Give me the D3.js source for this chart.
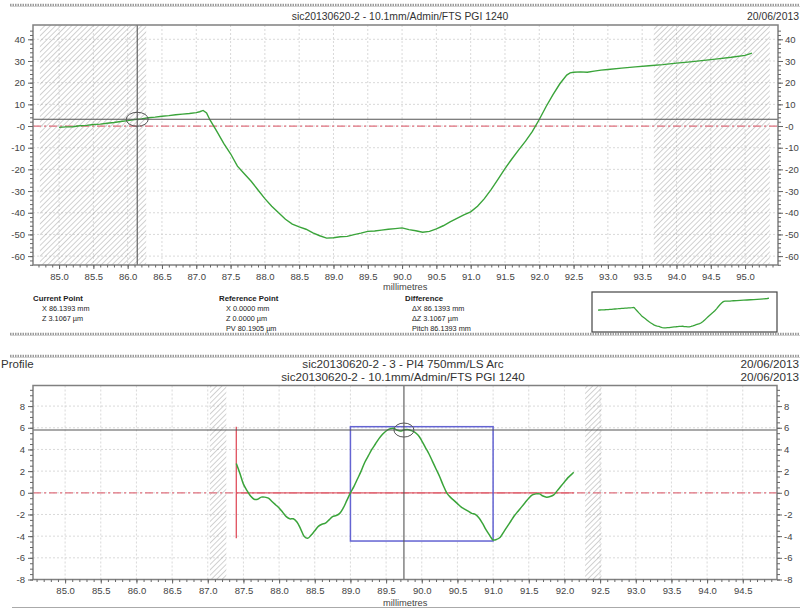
<!DOCTYPE html>
<html><head><meta charset="utf-8">
<script src="https://cdn.jsdelivr.net/npm/d3@7"></script>
<style>
html,body{margin:0;padding:0;background:#fff;overflow:hidden}
text{font-family:'Liberation Sans',Arial,sans-serif}
</style></head>
<body>
<svg id="c" width="800" height="609"></svg>
<script>
// ---------- DATA ----------
const topTitle = "sic20130620-2 - 10.1mm/Admin/FTS PGI 1240";
const topDate = "20/06/2013";
const botTitle1 = "sic20130620-2 - 3 - PI4 750mm/LS Arc";
const botTitle2 = "sic20130620-2 - 10.1mm/Admin/FTS PGI 1240";
const botDate = "20/06/2013";
const xLabel = "millimetres";

const topXTicks = [85.0,85.5,86.0,86.5,87.0,87.5,88.0,88.5,89.0,89.5,90.0,90.5,91.0,91.5,92.0,92.5,93.0,93.5,94.0,94.5,95.0];
const topYTicks = [40,30,20,10,0,-10,-20,-30,-40,-50,-60];
const topYLabels = ["40","30","20","10","-0","-10","-20","-30","-40","-50","-60"];
const botXTicks = [85.0,85.5,86.0,86.5,87.0,87.5,88.0,88.5,89.0,89.5,90.0,90.5,91.0,91.5,92.0,92.5,93.0,93.5,94.0,94.5];
const botYTicks = [8,6,4,2,0,-2,-4,-6,-8];
const botYLabels = ["8","6","4","2","0","-2","-4","-6","-8"];

// measured profile (mm, µm)
const topProfileX = [85.0,85.1,85.2,85.3,85.4,85.5,85.6,85.7,85.8,85.9,86.0,86.1,86.2,86.3,86.4,86.5,86.6,86.7,86.8,86.9,87.0,87.05,87.1,87.15,87.2,87.3,87.4,87.5,87.6,87.7,87.8,87.9,88.0,88.1,88.2,88.3,88.4,88.5,88.6,88.7,88.8,88.9,89.0,89.1,89.2,89.3,89.4,89.5,89.6,89.7,89.8,89.9,90.0,90.1,90.2,90.3,90.4,90.5,90.6,90.7,90.8,90.9,91.0,91.1,91.2,91.3,91.4,91.5,91.6,91.7,91.8,91.9,92.0,92.1,92.2,92.3,92.4,92.45,92.5,92.6,92.7,92.8,92.9,93.0,93.2,93.4,93.6,93.8,94.0,94.2,94.4,94.6,94.8,95.0,95.1];
const topProfileZ = [-0.6,-0.4,-0.3,0.1,0.3,0.7,0.9,1.3,1.6,2.1,2.5,3.0,3.3,3.8,4.1,4.5,4.8,5.2,5.5,5.8,6.2,6.6,7.2,6.0,2.8,-2.5,-8.0,-12.8,-18.5,-22.0,-25.5,-29.5,-33.5,-37.0,-40.0,-43.0,-45.2,-46.5,-47.6,-49.3,-50.6,-51.7,-51.5,-51.1,-50.9,-50.1,-49.4,-48.6,-48.4,-48.0,-47.6,-47.3,-47.0,-47.8,-48.3,-49.0,-48.6,-47.4,-46.0,-44.2,-42.6,-41.0,-39.6,-37.0,-33.5,-29.2,-24.5,-19.6,-15.2,-11.0,-7.0,-2.5,3.0,9.0,14.5,19.5,23.5,24.5,24.8,25.0,24.8,25.3,25.8,26.1,26.7,27.3,27.8,28.3,29.0,29.6,30.3,31.0,31.7,32.6,33.6];

// residual after PI4 arc fit (mm, µm)
const botProfileX = [87.40,87.45,87.50,87.55,87.60,87.65,87.70,87.75,87.80,87.85,87.90,87.95,88.00,88.05,88.10,88.15,88.20,88.25,88.30,88.35,88.40,88.45,88.50,88.55,88.60,88.65,88.70,88.75,88.80,88.85,88.90,88.95,89.00,89.05,89.10,89.15,89.20,89.25,89.30,89.35,89.40,89.45,89.50,89.55,89.60,89.65,89.70,89.75,89.80,89.85,89.90,89.95,90.00,90.05,90.10,90.15,90.20,90.25,90.30,90.35,90.40,90.45,90.50,90.55,90.60,90.65,90.70,90.75,90.80,90.85,90.90,90.95,91.00,91.05,91.10,91.15,91.20,91.25,91.30,91.35,91.40,91.45,91.50,91.55,91.60,91.65,91.70,91.75,91.80,91.85,91.90,91.95,92.00,92.05,92.10,92.13];
const botProfileZ = [2.7,1.8,0.8,0.2,-0.3,-0.6,-0.6,-0.4,-0.4,-0.5,-0.8,-1.1,-1.4,-1.8,-2.2,-2.4,-2.4,-2.7,-3.3,-4.0,-4.2,-3.9,-3.5,-3.1,-2.9,-2.8,-2.5,-2.2,-2.1,-1.9,-1.4,-0.7,0.0,0.6,1.3,2.0,2.8,3.4,4.0,4.5,5.0,5.4,5.7,5.9,5.95,5.8,5.7,5.8,5.85,5.75,5.6,5.3,4.8,4.2,3.6,2.9,2.2,1.5,0.7,0.0,-0.4,-0.7,-1.0,-1.3,-1.5,-1.7,-1.9,-2.0,-2.3,-2.8,-3.4,-3.9,-4.35,-4.3,-4.1,-3.6,-3.1,-2.6,-2.1,-1.7,-1.3,-0.9,-0.5,-0.2,-0.1,-0.1,-0.3,-0.4,-0.35,-0.2,0.2,0.6,1.0,1.4,1.7,1.9];

const topMasks = [[84.72,86.27],[93.67,95.36]];
const botMasks = [[87.03,87.26],[92.29,92.52]];
const topCursorX = 86.1393, topCursorZ = 3.1067;
const botCursorX = 89.75, botCursorZ = 5.79;
const boxX = [89.0, 91.0], boxZ = [-4.45, 6.1];
const redMarkX = 87.40, redMarkZ = [-4.2, 6.1];

const infoCurrent = ["Current Point","X  86.1393 mm","Z  3.1067 µm"];
const infoRef = ["Reference Point","X  0.0000 mm","Z  0.0000 µm","PV 80.1905 µm"];
const infoDiff = ["Difference","ΔX  86.1393 mm","ΔZ  3.1067 µm","Pitch 86.1393 mm"];

// ---------- DRAW ----------
const svg = d3.select("#c");
const defs = svg.append("defs");
const pat = defs.append("pattern").attr("id","hatch").attr("patternUnits","userSpaceOnUse")
  .attr("width",3.8).attr("height",3.8).attr("patternTransform","rotate(45)");
pat.append("line").attr("x1",0).attr("y1",0).attr("x2",0).attr("y2",3.8)
  .attr("stroke","#9a9a9a").attr("stroke-width",0.9);

function band(y){
  svg.append("line").attr("x1",10).attr("x2",800).attr("y1",y).attr("y2",y)
    .attr("stroke","#9a9a9a").attr("stroke-width",2.6).attr("stroke-dasharray","1.5,1");
  svg.append("line").attr("x1",10).attr("x2",800).attr("y1",y+1.5).attr("y2",y+1.5)
    .attr("stroke","#c8c8c8").attr("stroke-width",0.8);
}
band(5); band(334); band(356);
svg.append("line").attr("x1",12).attr("x2",800).attr("y1",607.5).attr("y2",607.5)
  .attr("stroke","#aaa").attr("stroke-width",1.2);

function panel(o){
  const g = svg.append("g");
  const x = o.x, y = o.y;
  const [x0,x1] = x.range(), [y0,y1] = y.range();
  g.selectAll(null).data(o.xTicks).enter().append("line")
    .attr("x1",d=>x(d)).attr("x2",d=>x(d)).attr("y1",y1).attr("y2",y0)
    .attr("stroke","#cfcfcf").attr("stroke-width",0.8).attr("stroke-dasharray","2,2");
  g.selectAll(null).data(o.yTicks).enter().append("line")
    .attr("x1",x0).attr("x2",x1).attr("y1",d=>y(d)).attr("y2",d=>y(d))
    .attr("stroke","#cfcfcf").attr("stroke-width",0.8).attr("stroke-dasharray","2,2");
  g.selectAll(null).data(o.masks).enter().append("rect")
    .attr("x",d=>x(d[0])).attr("width",d=>x(d[1])-x(d[0]))
    .attr("y",y1).attr("height",y0-y1).attr("fill","url(#hatch)");
  g.append("line").attr("x1",x0).attr("x2",x1).attr("y1",y(0)).attr("y2",y(0))
    .attr("stroke","#e0707e").attr("stroke-width",1.3).attr("stroke-dasharray","8,3,2,3");
  if(o.extra) o.extra(g);
  const pts = o.px.map((v,i)=>[v,o.pz[i]]);
  g.append("path").datum(pts)
    .attr("d",d3.line().x(d=>x(d[0])).y(d=>y(d[1])).curve(o.curve||d3.curveLinear))
    .attr("fill","none").attr("stroke","#3aa43a").attr("stroke-width",o.lw||1.4);
  g.append("line").attr("x1",x(o.cx)).attr("x2",x(o.cx)).attr("y1",y1).attr("y2",y0)
    .attr("stroke","#555").attr("stroke-width",1.1);
  g.append("line").attr("x1",x0).attr("x2",x1).attr("y1",y(o.cz)).attr("y2",y(o.cz))
    .attr("stroke","#555").attr("stroke-width",1.1);
  g.append("ellipse").attr("cx",x(o.cx)).attr("cy",y(o.cz)).attr("rx",o.erx).attr("ry",o.ery)
    .attr("fill","none").attr("stroke","#555").attr("stroke-width",1);
  g.append("rect").attr("x",x0).attr("y",y1).attr("width",x1-x0).attr("height",y0-y1)
    .attr("fill","none").attr("stroke","#808080").attr("stroke-width",1.5);
  const styleAxis = a => { a.select(".domain").remove(); a.selectAll("line").attr("stroke","#666");
    a.selectAll("text").attr("fill","#444").style("font-size",o.fs+"px").style("font-family","'Liberation Sans',Arial,sans-serif"); };
  const la = g.append("g").attr("transform",`translate(${x0},0)`)
    .call(d3.axisLeft(y).tickValues(o.yTicks).tickFormat((d,i)=>o.yLabels[i]).tickSize(5).tickPadding(3));
  styleAxis(la);
  const ra = g.append("g").attr("transform",`translate(${x1},0)`)
    .call(d3.axisRight(y).tickValues(o.yTicks).tickFormat((d,i)=>o.yLabels[i]).tickSize(5).tickPadding(2));
  styleAxis(ra);
  const lm = g.append("g").attr("transform",`translate(${x0},0)`)
    .call(d3.axisLeft(y).tickValues(o.yMinor).tickFormat("").tickSize(3)); styleAxis(lm);
  const rm = g.append("g").attr("transform",`translate(${x1},0)`)
    .call(d3.axisRight(y).tickValues(o.yMinor).tickFormat("").tickSize(3)); styleAxis(rm);
  const ba = g.append("g").attr("transform",`translate(0,${y0})`)
    .call(d3.axisBottom(x).tickValues(o.xTicks).tickFormat(d3.format(".1f")).tickSize(4).tickPadding(4));
  styleAxis(ba);
  const bm = g.append("g").attr("transform",`translate(0,${y0})`)
    .call(d3.axisBottom(x).tickValues(o.xMinor).tickFormat("").tickSize(2.5)); styleAxis(bm);
  return g;
}

// TOP PANEL
const xT = d3.scaleLinear().domain([84.62,95.48]).range([33,778]);
const yT = d3.scaleLinear().domain([-64.1,46.6]).range([265,25]);
const topXMinor = d3.range(84.7,95.45,0.1).map(v=>+v.toFixed(1));
const topYMinor = d3.range(-64,46,2);
panel({x:xT,y:yT,xTicks:topXTicks,yTicks:topYTicks,yLabels:topYLabels,xMinor:topXMinor,yMinor:topYMinor,
  masks:topMasks,px:topProfileX,pz:topProfileZ,cx:topCursorX,cz:topCursorZ,erx:11,ery:7,fs:9.5,lw:1.4});

svg.append("text").attr("x",400).attr("y",20).attr("text-anchor","middle")
  .style("font-size","10.4px").attr("fill","#333").text(topTitle);
svg.append("text").attr("x",799).attr("y",20).attr("text-anchor","end").style("font-size","10.4px").attr("fill","#333").text(topDate);
svg.append("text").attr("x",383).attr("y",290).style("font-size","9.3px").attr("fill","#444").text(xLabel);

function info(lines,x,indent){
  lines.forEach((t,i)=>{
    svg.append("text").attr("x",i===0?x:x+indent).attr("y",301+i*10)
      .style("font-size",i===0?"7.8px":"7.3px").style("font-weight",i===0?"bold":"normal")
      .attr("fill","#222").text(t);
  });
}
info(infoCurrent,33,9);
info(infoRef,219,7);
info(infoDiff,405,7);

svg.append("rect").attr("x",592).attr("y",292).attr("width",185).attr("height",40)
  .attr("fill","#fff").attr("stroke","#444").attr("stroke-width",1.2);
const xM = d3.scaleLinear().domain([85.0,95.1]).range([598,769]);
const yM = d3.scaleLinear().domain([-52,34]).range([328,298]);
svg.append("path").datum(topProfileX.map((v,i)=>[v,topProfileZ[i]]))
  .attr("d",d3.line().x(d=>xM(d[0])).y(d=>yM(d[1])))
  .attr("fill","none").attr("stroke","#3aa43a").attr("stroke-width",1.3);

// BOTTOM PANEL
const xB = d3.scaleLinear().domain([84.55,94.98]).range([33,777]);
const yB = d3.scaleLinear().domain([-8,9.9]).range([579.5,385.5]);
const botXMinor = d3.range(84.6,94.95,0.1).map(v=>+v.toFixed(1));
const botYMinor = d3.range(-8,9.9,0.5);
panel({x:xB,y:yB,xTicks:botXTicks,yTicks:botYTicks,yLabels:botYLabels,xMinor:botXMinor,yMinor:botYMinor,
  masks:botMasks,px:botProfileX,pz:botProfileZ,cx:botCursorX,cz:botCursorZ,erx:10,ery:7,fs:9.5,lw:1.5,
  curve:d3.curveCatmullRom,
  extra:g=>{
    g.append("line").attr("x1",xB(redMarkX)).attr("x2",xB(botProfileX[botProfileX.length-1]))
      .attr("y1",yB(0)).attr("y2",yB(0)).attr("stroke","#e0606e").attr("stroke-width",1.3);
    g.append("line").attr("x1",xB(redMarkX)).attr("x2",xB(redMarkX))
      .attr("y1",yB(redMarkZ[0])).attr("y2",yB(redMarkZ[1])).attr("stroke","#e0505e").attr("stroke-width",1.3);
    g.append("rect").attr("x",xB(boxX[0])).attr("width",xB(boxX[1])-xB(boxX[0]))
      .attr("y",yB(boxZ[1])).attr("height",yB(boxZ[0])-yB(boxZ[1]))
      .attr("fill","none").attr("stroke","#6464d2").attr("stroke-width",1.5);
  }});

svg.append("text").attr("x",1).attr("y",368).style("font-size","11.5px").attr("fill","#333").text("Profile");
svg.append("text").attr("x",403).attr("y",368).attr("text-anchor","middle")
  .style("font-size","11.7px").attr("fill","#333").text(botTitle1);
svg.append("text").attr("x",403).attr("y",381).attr("text-anchor","middle")
  .style("font-size","11.7px").attr("fill","#333").text(botTitle2);
svg.append("text").attr("x",799).attr("y",368).attr("text-anchor","end").style("font-size","11.7px").attr("fill","#333").text(botDate);
svg.append("text").attr("x",799).attr("y",381).attr("text-anchor","end").style("font-size","11.7px").attr("fill","#333").text(botDate);
svg.append("text").attr("x",383).attr("y",605.5).style("font-size","9.3px").attr("fill","#444").text(xLabel);
</script>
</body></html>
